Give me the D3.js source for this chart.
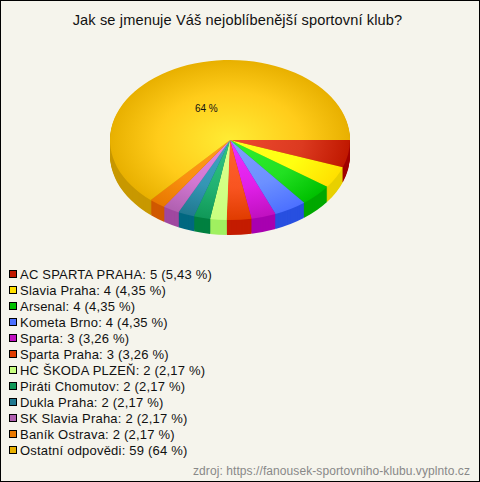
<!DOCTYPE html>
<html><head><meta charset="utf-8">
<script src="https://cdnjs.cloudflare.com/ajax/libs/d3/7.8.5/d3.min.js"></script>
<style>html,body{margin:0;padding:0;background:#f5f4ec}svg{display:block}text{font-family:"Liberation Sans",Arial,sans-serif}</style>
</head><body><div id="c"></div>
<script>
const title = "Jak se jmenuje Váš nejoblíbenější sportovní klub?";
const source = "zdroj: https://fanousek-sportovniho-klubu.vyplnto.cz";
const categories = ["AC SPARTA PRAHA","Slavia Praha","Arsenal","Kometa Brno","Sparta","Sparta Praha","HC ŠKODA PLZEŇ","Piráti Chomutov","Dukla Praha","SK Slavia Praha","Baník Ostrava","Ostatní odpovědi"];
const counts = [5,4,4,4,3,3,2,2,2,2,2,59];
const percents = ["5,43 %","4,35 %","4,35 %","4,35 %","3,26 %","3,26 %","2,17 %","2,17 %","2,17 %","2,17 %","2,17 %","64 %"];
// slice sizes
const sliceSizes = [5,4,4,4,3,3,2,2,2,2,2,57.4];
const innerColors = ["#ee4a30","#ffff20","#30f030","#80a0ff","#f030ff","#ff6430","#dcff90","#30c484","#40a4c4","#e488e4","#ff9c20","#ffec34"];
const midColors   = ["#dc3a20","#ffff10","#22e022","#6c90ff","#e020e8","#f85420","#d2ff84","#22b272","#3496b4","#d278d2","#fa9010","#ffcc1a"];
const outerColors = ["#c01800","#ffe000","#00c000","#4c70ff","#c010c0","#e03c00","#c8ff80","#109858","#207890","#b060b0","#e87800","#e8b000"];
const sideColors  = ["#a00000","#e8d000","#00a800","#2850e0","#a800b0","#c41c00","#a0f060","#008040","#006880","#a048a0","#d05800","#c89800"];

const W=480,H=482,cx=230,cy=140,R=120,squash=2/3,depth=15;
const svg=d3.select("#c").append("svg").attr("width",W).attr("height",H);
svg.append("rect").attr("x",.5).attr("y",.5).attr("width",W-1).attr("height",H-1).attr("fill","#f5f4ec").attr("stroke","#000");
svg.append("text").attr("x",237.5).attr("y",25).attr("text-anchor","middle").attr("font-size",14.6).attr("letter-spacing",.12).attr("fill","#111").text(title);

const pie=d3.pie().sort(null).value(d=>d).startAngle(Math.PI/2).endAngle(Math.PI/2+2*Math.PI);
const arcs=pie(sliceSizes);
const arc=d3.arc().innerRadius(0).outerRadius(R);
const defs=svg.append("defs");
const g=svg.append("g");
d3.range(depth,0,-1).forEach(dy=>{
  g.append("g").attr("transform",`translate(${cx},${cy+dy}) scale(1,${squash})`)
   .selectAll("path").data(arcs).join("path").attr("d",arc).attr("fill",(d,i)=>sideColors[i]);
});
arcs.forEach((d,i)=>{
  const gr=defs.append("radialGradient").attr("id","g"+i).attr("gradientUnits","userSpaceOnUse").attr("cx",0).attr("cy",0).attr("r",R);
  gr.append("stop").attr("offset",0).attr("stop-color",innerColors[i]);
  gr.append("stop").attr("offset",.6).attr("stop-color",midColors[i]);
  gr.append("stop").attr("offset",1).attr("stop-color",outerColors[i]);
});
g.append("g").attr("transform",`translate(${cx},${cy}) scale(1,${squash})`)
 .selectAll("path").data(arcs).join("path").attr("d",arc).attr("fill",(d,i)=>`url(#g${i})`);
const lblArc=d3.arc().innerRadius(R*.48).outerRadius(R*.48);
const [lx,ly]=lblArc.centroid(arcs[arcs.length-1]);
svg.append("text").attr("x",cx+lx).attr("y",cy+ly*squash+7).attr("text-anchor","middle").attr("font-size",10).attr("fill","#111").text(percents[percents.length-1]);

const y=d3.scalePoint().domain(categories).range([274,450]);
const rows=svg.append("g").selectAll("g").data(categories).join("g").attr("transform",d=>`translate(0,${y(d)})`);
rows.append("rect").attr("x",9.5).attr("y",-3.5).attr("width",7).attr("height",7).attr("fill",(d,i)=>outerColors[i]).attr("stroke","#000");
rows.append("text").attr("x",20).attr("y",5).attr("font-size",13).attr("letter-spacing",.21).attr("fill","#111").text((d,i)=>`${d}: ${counts[i]} (${percents[i]})`);
svg.append("text").attr("x",470).attr("y",475).attr("text-anchor","end").attr("font-size",12).attr("letter-spacing",.08).attr("fill","#888").text(source);
</script></body></html>
